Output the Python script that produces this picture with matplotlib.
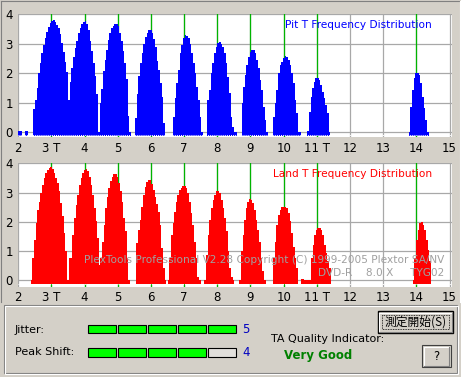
import matplotlib
matplotlib.use('Agg')
import matplotlib.pyplot as plt
from matplotlib.patches import Rectangle
import numpy as np

# histogram bin width (T units)
BIN = 0.05

t_values = list(range(2, 16))
t_labels = ['2', '3 T', '4', '5', '6', '7', '8', '9', '10', '11 T', '12', '13', '14', '15']
t_marks = [3, 4, 5, 6, 7, 8, 9, 10, 11, 14]

# Pit T histogram: start of each run of bins and the heights
pit_starts = [2.00, 2.20, 2.45, 3.50, 4.45, 5.52, 6.67, 7.70, 8.73, 9.68, 10.71, 13.77]
pit_peaks = [
    [0.05, 0.05],
    [0.05, 0.05],
    [0.77, 1.08, 1.5, 1.99, 2.35, 2.67, 2.95, 3.21, 3.4, 3.57, 3.71, 3.77, 3.8, 3.74,
     3.63, 3.52, 3.32, 3.04, 2.72, 2.38, 2.04],
    [1.08, 1.7, 2.16, 2.55, 2.84, 3.1, 3.35, 3.55, 3.68, 3.74, 3.76, 3.68, 3.48, 3.1,
     2.75, 2.35, 1.9, 1.3, 0.0],
    [1.0, 1.45, 2.06, 2.46, 2.8, 3.14, 3.37, 3.55, 3.62, 3.67, 3.67, 3.6, 3.37, 3.1,
     2.75, 2.35, 1.8, 0.55, 0.0],
    [0.46, 1.3, 1.9, 2.35, 2.7, 3.0, 3.22, 3.38, 3.46, 3.48, 3.35, 3.15, 2.89, 2.4,
     2.1, 1.65, 1.2, 0.3],
    [0.52, 1.14, 1.65, 2.1, 2.67, 2.95, 3.18, 3.29, 3.26, 3.18, 3.0, 2.67, 2.33, 1.99,
     1.54, 1.08, 0.52, 0.0],
    [1.08, 1.42, 1.99, 2.33, 2.67, 2.9, 3.04, 3.06, 3.0, 2.9, 2.67, 2.33, 1.88, 1.31,
     0.52, 0.18, 0.0, 0.0],
    [0.97, 1.54, 1.93, 2.27, 2.55, 2.72, 2.8, 2.78, 2.67, 2.44, 2.16, 1.76, 1.42, 0.86,
     0.41, 0.0],
    [0.52, 0.97, 1.42, 1.99, 2.27, 2.38, 2.5, 2.58, 2.55, 2.44, 2.27, 1.99, 1.65, 1.08,
     0.63, 0.0, 0.0],
    [0.05, 0.69, 1.2, 1.48, 1.7, 1.82, 1.85, 1.76, 1.59, 1.36, 1.14, 0.91, 0.63, 0.0],
    [0.0, 0.86, 1.42, 1.82, 1.99, 2.02, 1.93, 1.65, 1.2, 0.8, 0.41, 0.0],
]

# Land T histogram
land_starts = [2.37, 3.53, 4.47, 5.56, 6.50, 7.61, 8.66, 9.68, 10.52, 13.89]
land_peaks = [
    [0.0, 0.75, 1.38, 1.95, 2.41, 2.69, 2.98, 3.27, 3.49, 3.66, 3.78, 3.84, 3.86, 3.8,
     3.66, 3.49, 3.32, 3.04, 2.64, 2.18, 1.61, 0.98, 0.0],
    [0.75, 0.75, 1.55, 2.12, 2.58, 2.92, 3.26, 3.49, 3.66, 3.78, 3.81, 3.74, 3.55, 3.26,
     2.92, 2.47, 2.01, 1.44, 0.53, 0.0],
    [0.75, 1.32, 1.89, 2.47, 2.86, 3.15, 3.38, 3.55, 3.63, 3.63, 3.55, 3.32, 3.04, 2.69,
     2.12, 1.67, 0.75, 0.0],
    [1.26, 1.7, 2.05, 2.51, 2.91, 3.2, 3.37, 3.43, 3.43, 3.3, 3.09, 2.85, 2.6, 2.35,
     1.89, 1.1, 0.41, 0.0],
    [0.0, 0.75, 1.55, 1.95, 2.35, 2.69, 2.92, 3.09, 3.17, 3.24, 3.24, 3.14, 2.98, 2.69,
     2.29, 1.89, 1.32, 0.75, 0.1, 0.0],
    [0.0, 0.87, 1.55, 2.07, 2.47, 2.75, 2.92, 3.04, 3.04, 2.98, 2.75, 2.47, 2.12, 1.67,
     0.98, 0.41, 0.1, 0.0],
    [0.0, 0.98, 1.55, 2.07, 2.47, 2.69, 2.78, 2.75, 2.64, 2.41, 2.07, 1.72, 1.32, 0.75,
     0.3, 0.0],
    [0.75, 1.32, 1.89, 2.24, 2.41, 2.49, 2.52, 2.52, 2.47, 2.29, 2.01, 1.61, 1.15, 0.75,
     0.41],
    [0.05, 0.05, 0.0, 0.0, 0.0, 0.0, 0.75, 1.2, 1.55, 1.72, 1.78, 1.78, 1.72, 1.55,
     1.2, 0.92, 0.64, 0.41],
    [0.0, 0.75, 1.38, 1.72, 1.95, 1.98, 1.89, 1.72, 1.38, 1.04, 0.64],
]

jitter_score = 5
peak_shift_score = 4
n_boxes = 5

BG = '#D4D0C8'
NARROW = ['Liberation Sans Narrow', 'DejaVu Sans']
W, H = 461, 377

fig = plt.figure(figsize=(W / 100, H / 100), dpi=100, facecolor=BG)

# window furniture, in pixel coordinates
ui = fig.add_axes([0, 0, 1, 1], zorder=0)
ui.set_xlim(0, W)
ui.set_ylim(H, 0)
ui.axis('off')


def px_axes(left, top, right, bottom):
    return fig.add_axes([left / W, (H - bottom) / H, (right - left) / W, (bottom - top) / H], zorder=1)


def draw_hist(ax, starts, peaks, base, color, title, title_y):
    ax.set_facecolor('white')
    ax.set_xlim(1.98, 15.06)
    for x in t_marks:
        ax.axvline(x, color='#00B400', lw=0.9, zorder=1)
    for s, vals in zip(starts, peaks):
        edges = s + BIN * np.arange(len(vals) + 1)
        ax.stairs(vals, edges, baseline=base, fill=True, color=color, lw=0, zorder=2)
    ax.hlines(base + 0.02, 1.98, 15.06, colors='white', linestyles=(0, (1, 1)), lw=0.75, zorder=2.5)
    ax.set_xticks(t_values)
    ax.set_xticklabels(t_labels, family=NARROW, fontsize=8.5)
    ax.set_yticks(range(5))
    ax.set_yticklabels([str(v) for v in range(5)], family=NARROW, fontsize=8.5)
    ax.tick_params(length=0, pad=3.5)
    ax.grid(color='#A8A8A8', lw=0.9)
    ax.set_axisbelow(True)
    for sp in ax.spines.values():
        sp.set_visible(False)
    ax.text(14.47, title_y, title, color=color, fontsize=7.6, family=NARROW,
            ha='right', va='center', zorder=3)


ax1 = px_axes(17.6, 13.5, 451.5, 137)
ax1.set_ylim(-0.17, 4.03)
draw_hist(ax1, pit_starts, pit_peaks, -0.12, '#0000FF', 'Pit T Frequency Distribution', 3.63)

ax2 = px_axes(17.6, 162.5, 451.5, 286.5)
ax2.set_ylim(-0.22, 4.03)
draw_hist(ax2, land_starts, land_peaks, -0.14, '#FF0000', 'Land T Frequency Distribution', 3.63)
ax2.text(14.85, 0.68, 'PlexTools Professional V2.28 Copyright (C) 1999-2005 Plextor SA/NV',
         color='#A0A0A0', fontsize=7.6, family=NARROW, ha='right', va='center', zorder=3)
ax2.text(14.85, 0.24, 'DVD-R    8.0 X     TYG02',
         color='#A0A0A0', fontsize=7.6, family=NARROW, ha='right', va='center', zorder=3)

# sunken frame round the charts
ui.plot([1, 459], [1, 1], color='#808080', lw=0.8)
ui.plot([1, 1], [1, 302], color='#808080', lw=0.8)
ui.plot([459.5, 459.5], [1, 302], color='white', lw=0.8)

# group box
ui.add_patch(Rectangle((3.5, 304.5), 453, 68.5, fill=False, ec='#808080', lw=0.8))
ui.add_patch(Rectangle((4.5, 305.5), 453, 68.5, fill=False, ec='white', lw=0.8))

ui.text(15, 330, 'Jitter:', fontsize=8, va='center', ha='left')
ui.text(15, 352, 'Peak Shift:', fontsize=8, va='center', ha='left')
for row_y, score in [(325, jitter_score), (348.3, peak_shift_score)]:
    for i in range(n_boxes):
        fc = '#00FF00' if i < score else '#E2E0DC'
        ui.add_patch(Rectangle((88.3 + i * 30, row_y), 27.3, 8.4, fc=fc, ec='black', lw=0.8))
    ui.text(246, row_y + 4.5, str(score), color='#0000C0', fontsize=8.5, va='center', ha='center')

ui.text(271, 339.5, 'TA Quality Indicator:', fontsize=8, va='center', ha='left')
ui.text(318, 356, 'Very Good', fontsize=8.5, fontweight='bold', color='#008000',
        va='center', ha='center')

# buttons
def button(x0, y0, x1, y1, label, default=False, family=None):
    ui.add_patch(Rectangle((x0, y0), x1 - x0, y1 - y0, fc=BG,
                           ec='black' if default else '#404040', lw=1.0 if default else 0.8))
    ui.plot([x0 + 1.5, x1 - 2], [y0 + 1.5, y0 + 1.5], color='white', lw=0.8)
    ui.plot([x0 + 1.5, x0 + 1.5], [y0 + 1.5, y1 - 2], color='white', lw=0.8)
    ui.plot([x0 + 1.5, x1 - 1.5], [y1 - 1.5, y1 - 1.5], color='#808080', lw=0.8)
    ui.plot([x1 - 1.5, x1 - 1.5], [y0 + 1.5, y1 - 1.5], color='#808080', lw=0.8)
    if default:
        ui.add_patch(Rectangle((x0 + 4, y0 + 4), x1 - x0 - 8, y1 - y0 - 8, fill=False,
                               ec='black', lw=0.6, ls=(0, (1, 1))))
    kw = {'family': family} if family else {}
    ui.text((x0 + x1) / 2, (y0 + y1) / 2, label, fontsize=8.5, ha='center', va='center', **kw)


button(377.7, 311, 453.3, 333.3, '測定開始(S)', default=True,
       family=['Noto Sans CJK JP', 'DejaVu Sans'])
button(422.3, 345, 450.7, 367.3, '?')

fig.savefig('out.png', dpi=100, facecolor=BG)
